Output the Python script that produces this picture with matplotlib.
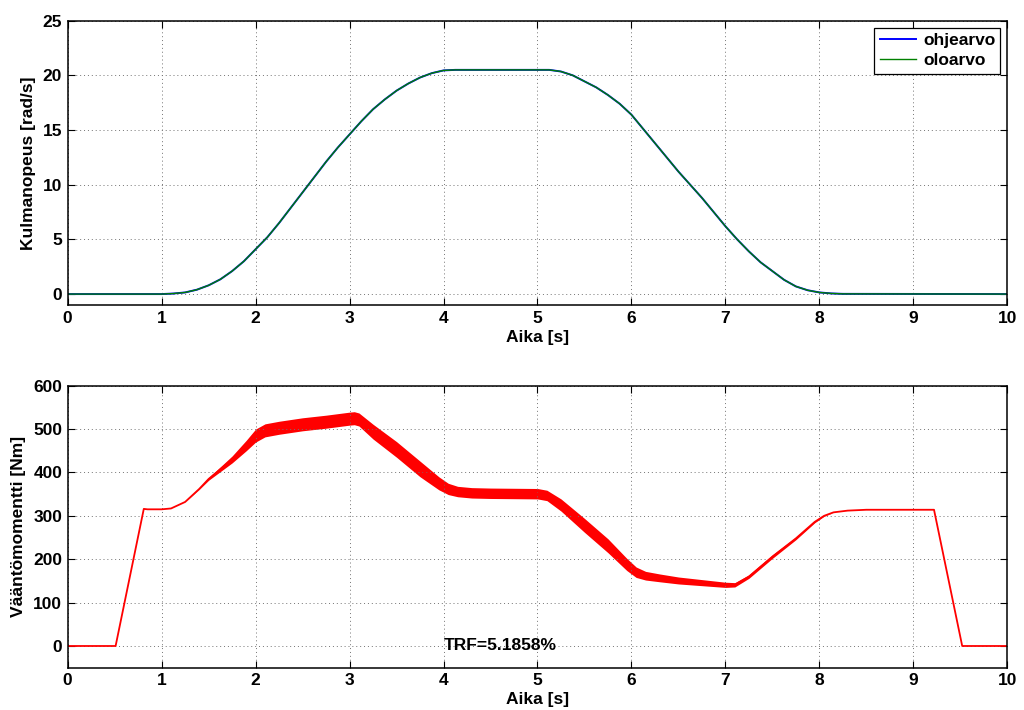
import numpy as np
import matplotlib
matplotlib.use("Agg")
import matplotlib.pyplot as plt

# angular speed
t_speed = [0, 1.0, 1.125, 1.25, 1.375, 1.5, 1.625, 1.75, 1.875, 2.0, 2.125, 2.25,
           2.375, 2.5, 2.625, 2.75, 2.875, 3.0, 3.125, 3.25, 3.375, 3.5, 3.625,
           3.75, 3.875, 4.0, 4.125, 4.25, 5.0, 5.125, 5.25, 5.375, 5.5, 5.625,
           5.75, 5.875, 6.0, 6.125, 6.25, 6.375, 6.5, 6.625, 6.75, 6.875, 7.0,
           7.125, 7.25, 7.375, 7.5, 7.625, 7.75, 7.875, 8.0, 8.125, 8.25, 10]
speed_ref = [0, 0, 0.05, 0.15, 0.4, 0.8, 1.35, 2.1, 3.0, 4.1, 5.2, 6.5,
             7.9, 9.3, 10.7, 12.1, 13.4, 14.6, 15.8, 16.9, 17.8, 18.6, 19.25,
             19.8, 20.2, 20.45, 20.5, 20.5, 20.5, 20.5, 20.35, 20.0, 19.45, 18.9,
             18.2, 17.4, 16.4, 15.1, 13.8, 12.5, 11.2, 10.0, 8.8, 7.5, 6.2,
             5.0, 3.9, 2.9, 2.1, 1.3, 0.7, 0.35, 0.15, 0.06, 0.02, 0]
speed_act = speed_ref

# torque: centre line and half width of the ripple band
t_torque = [0, 0.51, 0.81, 0.85, 1.0, 1.1, 1.25, 1.4, 1.5, 1.75, 1.9, 2.0, 2.1,
            2.25, 2.5, 2.75, 3.0, 3.05, 3.1, 3.25, 3.5, 3.75, 3.95, 4.05, 4.15,
            4.3, 4.5, 5.0, 5.1, 5.25, 5.5, 5.75, 5.95, 6.05, 6.15, 6.3, 6.5,
            6.75, 7.0, 7.1, 7.25, 7.5, 7.75, 7.95, 8.05, 8.15, 8.3, 8.5, 9.22,
            9.52, 10]
torque_mid = [0, 0, 316, 315, 315, 317, 332, 362, 385, 430, 462, 485, 497,
              503, 511, 517, 524, 525, 522, 494, 453, 408, 375, 362, 356,
              353, 352, 351, 347, 325, 278, 231, 188, 170, 162, 157, 151,
              146, 141, 141, 160, 206, 248, 286, 300, 308, 312, 314, 314,
              0, 0]
ripple_half = [0, 0, 0, 0, 0, 0, 0, 1, 3, 8, 12, 15, 15,
               15, 15, 15, 15, 15, 15, 17, 18, 18, 15, 13, 12,
               12, 12, 12, 12, 14, 16, 16, 14, 12, 10, 9, 8,
               7, 6, 5, 4, 4, 3, 2, 1, 0, 0, 0, 0,
               0, 0]
trf_text = "TRF=5.1858%"

plt.rcParams["font.family"] = "Liberation Sans"
plt.rcParams["font.weight"] = "bold"
plt.rcParams["font.size"] = 12.5

fig = plt.figure(figsize=(10.24, 7.10), dpi=100)
ax1 = fig.add_axes([0.0661, 0.5704, 0.9176, 0.4005])
ax2 = fig.add_axes([0.0661, 0.0596, 0.9176, 0.3972])

ax1.plot(t_speed, speed_ref, color="#0000ff", lw=1.4, label="ohjearvo")
ax1.plot(t_speed, speed_act, color="#008000", lw=1.0, label="oloarvo")
ax1.set_xlim(0, 10)
ax1.set_ylim(-1, 25)
ax1.set_yticks(range(0, 26, 5))
ax1.set_xlabel("Aika [s]", fontweight="bold", labelpad=3)
ax1.set_ylabel("Kulmanopeus [rad/s]", fontweight="bold", labelpad=5)
leg = ax1.legend(loc="upper right", fancybox=False, edgecolor="black",
                 framealpha=1, borderaxespad=0.4, handlelength=2.1,
                 borderpad=0.3, labelspacing=0.3, handletextpad=0.4,
                 prop={"weight": "bold", "size": 12.5})
leg.get_frame().set_linewidth(0.9)

mid = np.array(torque_mid, dtype=float)
half = np.array(ripple_half, dtype=float)
ax2.fill_between(t_torque, mid - half, mid + half, color="red", lw=0)
ax2.plot(t_torque, torque_mid, color="red", lw=1.3)
ax2.set_xlim(0, 10)
ax2.set_ylim(-50, 600)
ax2.set_yticks(range(0, 601, 100))
ax2.set_xlabel("Aika [s]", fontweight="bold", labelpad=3)
ax2.set_ylabel("Vääntömomentti [Nm]", fontweight="bold", labelpad=5)
ax2.text(4.0, 0, trf_text, fontweight="bold", fontsize=12.5, va="center", ha="left")

for ax in (ax1, ax2):
    ax.set_xticks(range(0, 11))
    ax.grid(True, linestyle=(0, (1, 3)), color="0.45", lw=0.7)
    ax.tick_params(direction="in", top=True, right=True, length=5,
                   labelsize=12.5, width=0.8, pad=4)
    for lab in ax.get_xticklabels() + ax.get_yticklabels():
        lab.set_fontweight("bold")
    for sp in ax.spines.values():
        sp.set_linewidth(1.1)

fig.savefig("out.png", dpi=100)
